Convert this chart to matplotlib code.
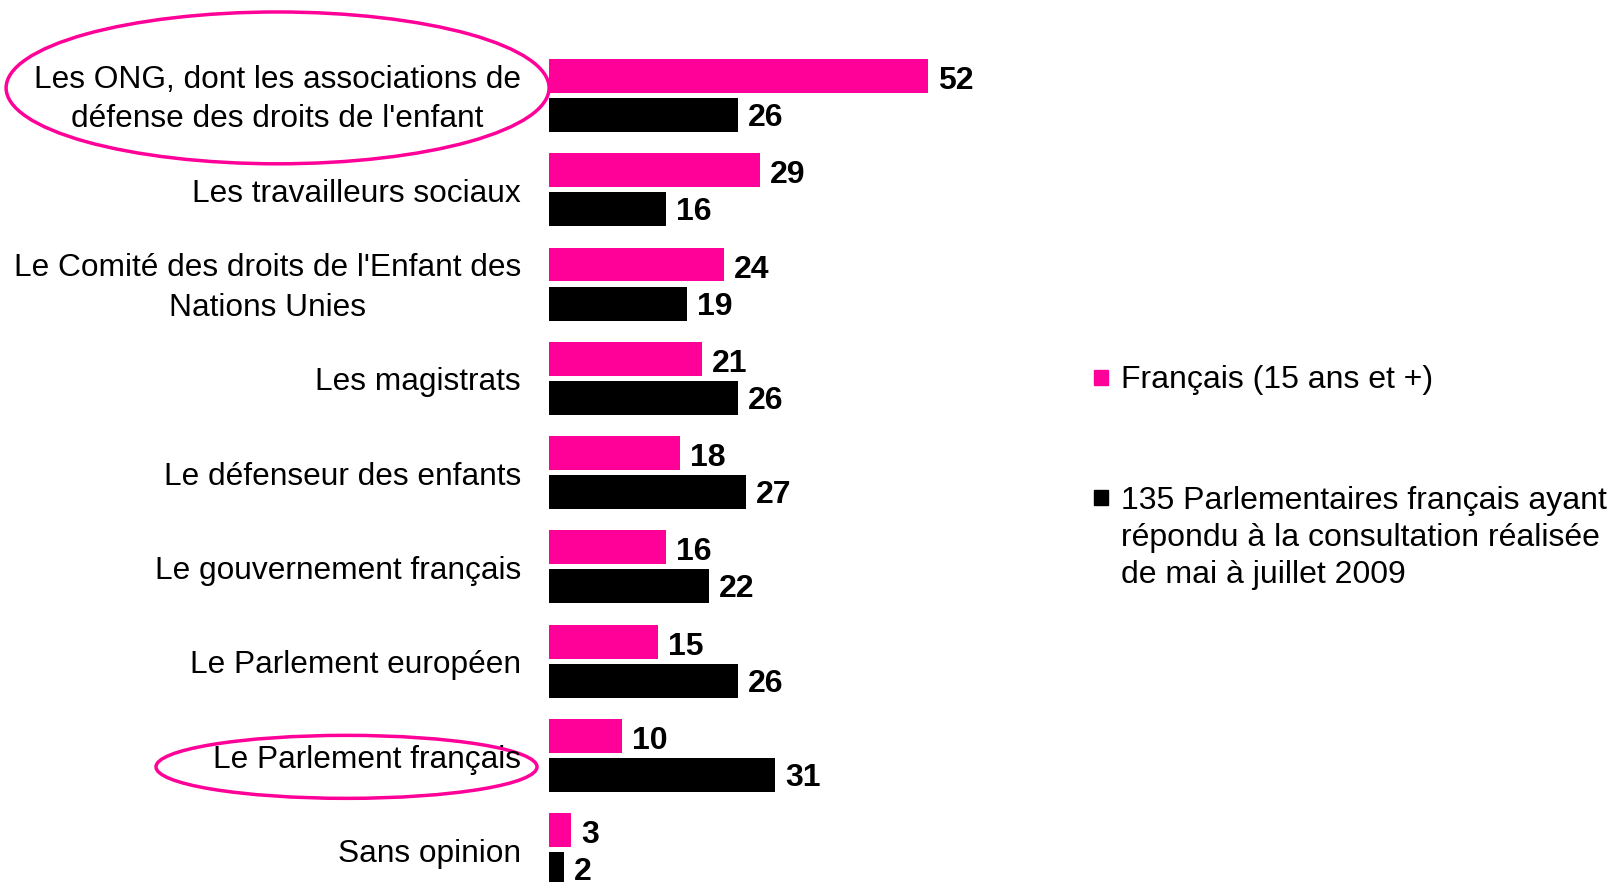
import numpy as np
import matplotlib.pyplot as plt
from matplotlib.patches import Ellipse, Rectangle
from matplotlib import transforms

plt.rcParams['font.family'] = ['Liberation Sans', 'DejaVu Sans']

# Data
categories = ["Les ONG, dont les associations de\ndéfense des droits de l'enfant",
              "Les travailleurs sociaux",
              "Le Comité des droits de l'Enfant des\nNations Unies",
              "Les magistrats",
              "Le défenseur des enfants",
              "Le gouvernement français",
              "Le Parlement européen",
              "Le Parlement français",
              "Sans opinion"]
francais = [52, 29, 24, 21, 18, 16, 15, 10, 3]
parlementaires = [26, 16, 19, 26, 27, 22, 26, 31, 2]
series_names = ["Français (15 ans et +)",
                "135 Parlementaires français ayant\nrépondu à la consultation réalisée\nde mai à juillet 2009"]
highlighted = [0, 7]

pink = '#FF0098'
black = '#000000'

fig = plt.figure(figsize=(16.09, 8.82), dpi=100)
ax = fig.add_axes([549/1609, 0, 437/1609, 1])

y = np.arange(len(categories))
h = 0.36
off = 0.207
ax.barh(y - off, francais, height=h, color=pink)
ax.barh(y + off, parlementaires, height=h, color=black)

ax.set_xlim(0, 60)
ax.set_ylim(8.341, -1.012)
ax.axis('off')

# value labels
for i in range(len(categories)):
    ax.annotate(str(francais[i]), xy=(francais[i], y[i] - off), xytext=(10, -5),
                textcoords='offset pixels', ha='left', va='center',
                fontsize=23, fontweight='bold')
    ax.annotate(str(parlementaires[i]), xy=(parlementaires[i], y[i] + off), xytext=(10, -3),
                textcoords='offset pixels', ha='left', va='center',
                fontsize=23, fontweight='bold', annotation_clip=False)

# category labels
for i, lab in enumerate(categories):
    ax.annotate(lab, xy=(0, y[i]), xycoords=('axes fraction', 'data'),
                xytext=(-28, -4), textcoords='offset pixels',
                ha='right', va='center', multialignment='center',
                fontsize=22.8, linespacing=1.4)

# highlight ellipses
blend = transforms.blended_transform_factory(fig.transFigure, ax.transData)
ax.add_patch(Ellipse((277.6/1609, highlighted[0] - 0.08), 543/1609, 1.61,
                     transform=blend, fill=False, edgecolor=pink, lw=2.5, clip_on=False))
ax.add_patch(Ellipse((346.5/1609, highlighted[1] + 0.12), 381/1609, 0.668,
                     transform=blend, fill=False, edgecolor=pink, lw=2.5, clip_on=False))

# legend
fig.add_artist(Rectangle((1094/1609, 1 - 385/882), 14/1609, 15/882,
                         transform=fig.transFigure, color=pink))
fig.text(1121/1609, 1 - 380/882, series_names[0], ha='left', va='center', fontsize=23)
fig.add_artist(Rectangle((1094/1609, 1 - 505/882), 14/1609, 15/882,
                         transform=fig.transFigure, color=black))
fig.text(1121/1609, 1 - 538/882, series_names[1], ha='left', va='center',
         fontsize=23, linespacing=1.29)

fig.savefig('out.png', dpi=100)
